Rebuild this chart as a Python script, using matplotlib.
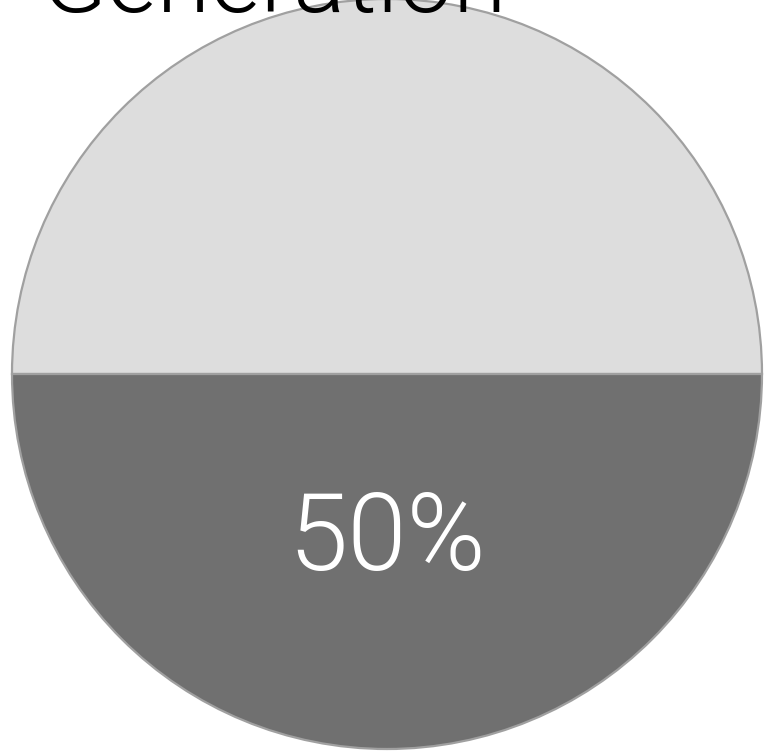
import matplotlib
matplotlib.use("Agg")
import matplotlib.pyplot as plt
import numpy as np

# Data
title = "Generation"
categories = ["Other", "Generation"]
values = [50, 50]
colors = ["#dddddd", "#707070"]
shown_labels = ["", "50%"]

W, H, DPI = 764, 751, 100
fig = plt.figure(figsize=(W / DPI, H / DPI), dpi=DPI)

# pie centre (387, 374) px from top-left, radius 375 px
cx, cy, r = 387, 374, 375
ax = fig.add_axes([(cx - r) / W, (H - cy - r) / H, 2 * r / W, 2 * r / H])

wedges, _ = ax.pie(
    values,
    colors=colors,
    startangle=0,
    counterclock=True,
    radius=1,
    wedgeprops=dict(edgecolor="#a0a0a0", linewidth=1.6),
)
for w, lab in zip(wedges, shown_labels):
    if not lab:
        continue
    ang = np.deg2rad((w.theta1 + w.theta2) / 2)
    ax.text(0.445 * np.cos(ang), 0.445 * np.sin(ang), lab,
            ha="center", va="center", color="white",
            fontsize=77, family="Roboto", fontweight=300)

ax.set_xlim(-1, 1)
ax.set_ylim(-1, 1)
ax.set_axis_off()

fig.text(40 / W, 1 - 12 / H, title, ha="left", va="baseline",
         fontsize=70, family="Roboto", fontweight=300, color="black")

fig.savefig("out.png", dpi=DPI)
